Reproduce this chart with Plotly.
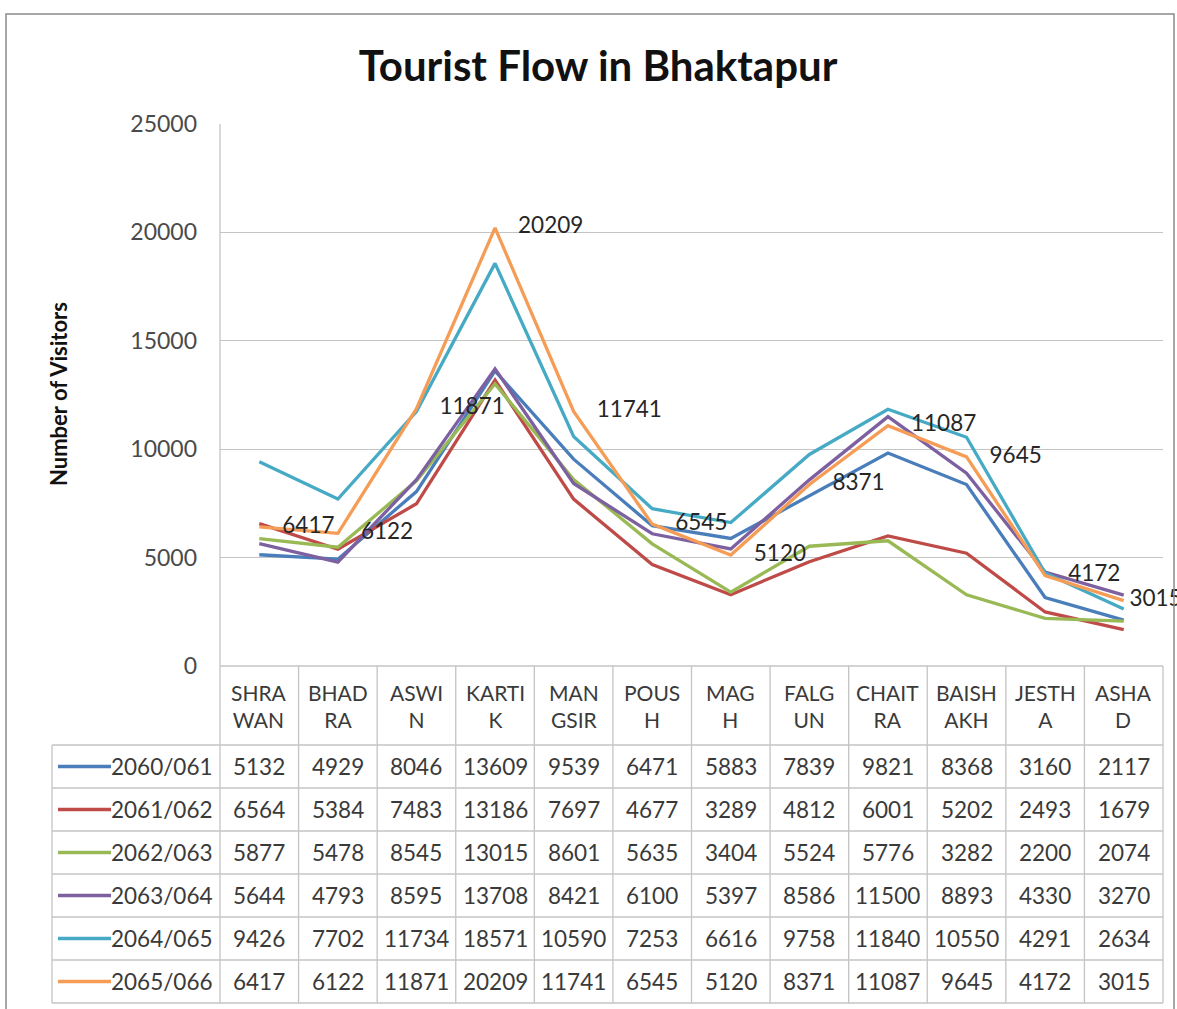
import plotly.graph_objects as go

months = ["SHRAWAN", "BHADRA", "ASWIN", "KARTIK", "MANGSIR", "POUSH",
          "MAGH", "FALGUN", "CHAITRA", "BAISHAKH", "JESTHA", "ASHAD"]
month_labels = ["SHRA<br>WAN", "BHAD<br>RA", "ASWI<br>N", "KARTI<br>K", "MAN<br>GSIR", "POUS<br>H",
                "MAG<br>H", "FALG<br>UN", "CHAIT<br>RA", "BAISH<br>AKH", "JESTH<br>A", "ASHA<br>D"]
series_names = ["2060/061", "2061/062", "2062/063", "2063/064", "2064/065", "2065/066"]
v2060 = [5132, 4929, 8046, 13609, 9539, 6471, 5883, 7839, 9821, 8368, 3160, 2117]
v2061 = [6564, 5384, 7483, 13186, 7697, 4677, 3289, 4812, 6001, 5202, 2493, 1679]
v2062 = [5877, 5478, 8545, 13015, 8601, 5635, 3404, 5524, 5776, 3282, 2200, 2074]
v2063 = [5644, 4793, 8595, 13708, 8421, 6100, 5397, 8586, 11500, 8893, 4330, 3270]
v2064 = [9426, 7702, 11734, 18571, 10590, 7253, 6616, 9758, 11840, 10550, 4291, 2634]
v2065 = [6417, 6122, 11871, 20209, 11741, 6545, 5120, 8371, 11087, 9645, 4172, 3015]
series_values = [v2060, v2061, v2062, v2063, v2064, v2065]
colors = ["#4A7EBB", "#BE4B48", "#98B954", "#7D60A0", "#46AAC5", "#F59D56"]
labelled_series = "2065/066"

W, H = 1177, 1009
FONT = "Lato"
TXT = "#3a3a3a"
GRID = "#c4c4c4"

def px(x):
    return x / W

def py(y):
    return 1 - y / H

PLOT_L, PLOT_R, PLOT_T, PLOT_B = 220, 1163, 124, 666
HEADER_H, ROW_H = 79, 43
LEG_L = 52

fig = go.Figure()
idx = list(range(len(months)))
PAD = "\u00a0\u00a0\u00a0\u00a0"
for name, vals, col in zip(series_names, series_values, colors):
    lab = name == labelled_series
    templates = None
    if lab:
        templates = [PAD + "%{text}"] * (len(vals) - 1) + ["\u00a0%{text}"]
    fig.add_trace(go.Scatter(
        x=idx, y=vals, name=name, mode="lines+text" if lab else "lines",
        line=dict(color=col, width=3.3),
        text=[str(v) for v in vals] if lab else None,
        texttemplate=templates,
        textposition="middle right",
        textfont=dict(family=FONT, size=22.5, color="#262626"),
        cliponaxis=False, showlegend=False, hoverinfo="skip"))

shapes = []
annotations = []
n = len(months)
colw = (PLOT_R - PLOT_L) / n
table_bottom = PLOT_B + HEADER_H + ROW_H * len(series_names)
LW = 1.3

# chart border
shapes.append(dict(type="rect", xref="paper", yref="paper", x0=px(6), x1=px(1174),
                   y0=py(1030), y1=py(14), line=dict(color="#8a8a8a", width=1.5)))
# left axis line through table
shapes.append(dict(type="line", xref="paper", yref="paper", x0=px(PLOT_L), x1=px(PLOT_L),
                   y0=py(PLOT_T), y1=py(table_bottom), line=dict(color=GRID, width=LW)))
# vertical column lines
for i in range(1, n + 1):
    xx = PLOT_L + i * colw
    shapes.append(dict(type="line", xref="paper", yref="paper", x0=px(xx), x1=px(xx),
                       y0=py(PLOT_B), y1=py(table_bottom), line=dict(color=GRID, width=LW)))
shapes.append(dict(type="line", xref="paper", yref="paper", x0=px(LEG_L), x1=px(LEG_L),
                   y0=py(PLOT_B + HEADER_H), y1=py(table_bottom), line=dict(color=GRID, width=LW)))
# horizontal lines
shapes.append(dict(type="line", xref="paper", yref="paper", x0=px(PLOT_L), x1=px(PLOT_R),
                   y0=py(PLOT_B), y1=py(PLOT_B), line=dict(color=GRID, width=LW)))
for r in range(len(series_names) + 1):
    yy = PLOT_B + HEADER_H + r * ROW_H
    shapes.append(dict(type="line", xref="paper", yref="paper", x0=px(LEG_L), x1=px(PLOT_R),
                       y0=py(yy), y1=py(yy), line=dict(color=GRID, width=LW)))

# header labels
for i, lab in enumerate(month_labels):
    annotations.append(dict(x=i, xref="x", y=py(PLOT_B + HEADER_H / 2), yref="paper",
                            xanchor="center", yanchor="middle",
                            text=lab, showarrow=False,
                            font=dict(family=FONT, size=21, color=TXT)))
# rows
for r, (name, vals, col) in enumerate(zip(series_names, series_values, colors)):
    yc = PLOT_B + HEADER_H + r * ROW_H + ROW_H / 2
    shapes.append(dict(type="line", xref="paper", yref="paper", x0=px(58), x1=px(111),
                       y0=py(yc), y1=py(yc), line=dict(color=col, width=3.5)))
    annotations.append(dict(x=px(215), xref="paper", y=py(yc), yref="paper",
                            xanchor="right", yanchor="middle",
                            text=name, showarrow=False,
                            font=dict(family=FONT, size=22.5, color=TXT)))
    for i, v in enumerate(vals):
        annotations.append(dict(x=i, xref="x", y=py(yc), yref="paper", text=str(v),
                                xanchor="center", yanchor="middle",
                                showarrow=False, font=dict(family=FONT, size=22.5, color=TXT)))

# y-axis title
annotations.append(dict(x=px(58), y=py(394), xref="paper", yref="paper",
                        xanchor="center", yanchor="middle",
                        text="<b>Number of Visitors</b>",
                        textangle=-90, showarrow=False, font=dict(family=FONT, size=22, color="#111")))

fig.update_layout(
    width=W, height=H,
    margin=dict(l=0, r=0, t=0, b=0, pad=0, autoexpand=False),
    paper_bgcolor="white", plot_bgcolor="white",
    title=dict(text="<b>Tourist Flow in Bhaktapur</b>", x=px(598), xanchor="center",
               y=py(66), yanchor="middle", automargin=False,
               font=dict(family=FONT, size=42, color="#111")),
    xaxis=dict(domain=[px(PLOT_L), px(PLOT_R)], range=[-0.5, n - 0.5], showgrid=False,
               showticklabels=False, zeroline=False, showline=False, ticks="", automargin=False),
    yaxis=dict(domain=[py(PLOT_B), py(PLOT_T)], range=[0, 25000], dtick=5000, tickformat="d",
               showgrid=True, gridcolor=GRID, gridwidth=LW, zeroline=False, showline=False,
               ticks="", ticklabelstandoff=22, automargin=False,
               tickfont=dict(family=FONT, size=23, color="#4a4a4a")),
    shapes=shapes, annotations=annotations,
)
fig.write_html("out.html", config={"displayModeBar": False},
               post_script="document.body.style.margin='0';document.body.style.overflow='hidden';")
